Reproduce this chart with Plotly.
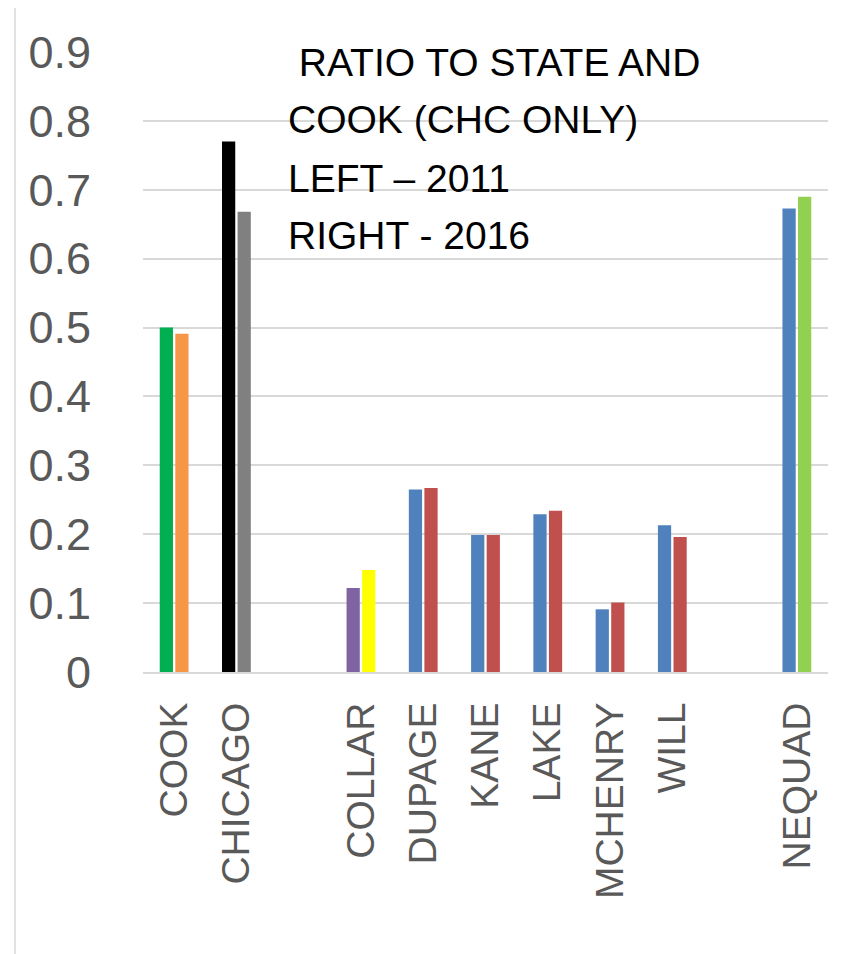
import plotly.graph_objects as go

categories = ["COOK", "CHICAGO", " ", "COLLAR", "DUPAGE", "KANE", "LAKE", "MCHENRY", "WILL", "  ", "NEQUAD"]
values_2011 = [0.500, 0.770, None, 0.122, 0.265, 0.199, 0.229, 0.091, 0.213, None, 0.673]
values_2016 = [0.491, 0.668, None, 0.148, 0.267, 0.199, 0.234, 0.101, 0.196, None, 0.690]
colors_2011 = ["#00B050", "#000000", "#FFFFFF", "#8064A2", "#4F81BD", "#4F81BD", "#4F81BD", "#4F81BD", "#4F81BD", "#FFFFFF", "#4F81BD"]
colors_2016 = ["#F79646", "#808080", "#FFFFFF", "#FFFF00", "#C0504D", "#C0504D", "#C0504D", "#C0504D", "#C0504D", "#FFFFFF", "#92D050"]
title_lines = [" RATIO TO STATE AND", "COOK (CHC ONLY)", "LEFT \u2013 2011", "RIGHT - 2016"]
y_ticks = [0, 0.1, 0.2, 0.3, 0.4, 0.5, 0.6, 0.7, 0.8, 0.9]
y_tick_labels = ["0", "0.1", "0.2", "0.3", "0.4", "0.5", "0.6", "0.7", "0.8", "0.9"]

W, H = 848, 954
OFF = 8  # page body margin
L, R, T, B = 143 - OFF, 828 - OFF, 52 - OFF, 672 - OFF

fig = go.Figure()
fig.add_trace(go.Bar(x=categories, y=values_2011, name="2011",
                     marker=dict(color=colors_2011, line=dict(width=0))))
fig.add_trace(go.Bar(x=categories, y=values_2016, name="2016",
                     marker=dict(color=colors_2016, line=dict(width=0))))

def px_x(p):
    return (p - OFF - L) / (R - L)

def px_y(p):
    return (B - (p - OFF)) / (B - T)

annotations = []
line_centers = [63, 120, 178, 235]
for txt, yc in zip(title_lines, line_centers):
    annotations.append(dict(text=txt, x=px_x(286), y=px_y(yc), xref="paper", yref="paper",
                            xanchor="left", yanchor="middle", showarrow=False,
                            font=dict(family="Liberation Sans, Arial", size=39, color="#000000")))

fig.update_layout(
    width=W, height=H,
    margin=dict(l=L, r=W - R, t=T, b=H - B, pad=0),
    paper_bgcolor="white", plot_bgcolor="white",
    barmode="group", bargap=0.5, bargroupgap=0.15,
    showlegend=False,
    annotations=annotations,
    shapes=[dict(type="rect", xref="paper", yref="paper",
                 x0=px_x(15), x1=px_x(870), y0=px_y(990), y1=px_y(7),
                 line=dict(color="#D9D9D9", width=1.5), fillcolor="rgba(0,0,0,0)", layer="below")],
)
fig.update_xaxes(type="category", tickangle=-90, showgrid=False, showline=True,
                 linecolor="#D9D9D9", linewidth=2, ticks="",
                 tickfont=dict(family="Liberation Sans, Arial", size=39, color="#595959"),
                 ticklabelstandoff=13)
fig.update_yaxes(range=[0, 0.9], tickvals=y_ticks, ticktext=y_tick_labels,
                 showgrid=True, gridcolor="#D9D9D9", gridwidth=1.5, zeroline=False,
                 showline=False, ticks="",
                 tickfont=dict(family="Liberation Sans, Arial", size=45, color="#595959"),
                 ticklabelstandoff=51)

fig.write_html("out.html")
